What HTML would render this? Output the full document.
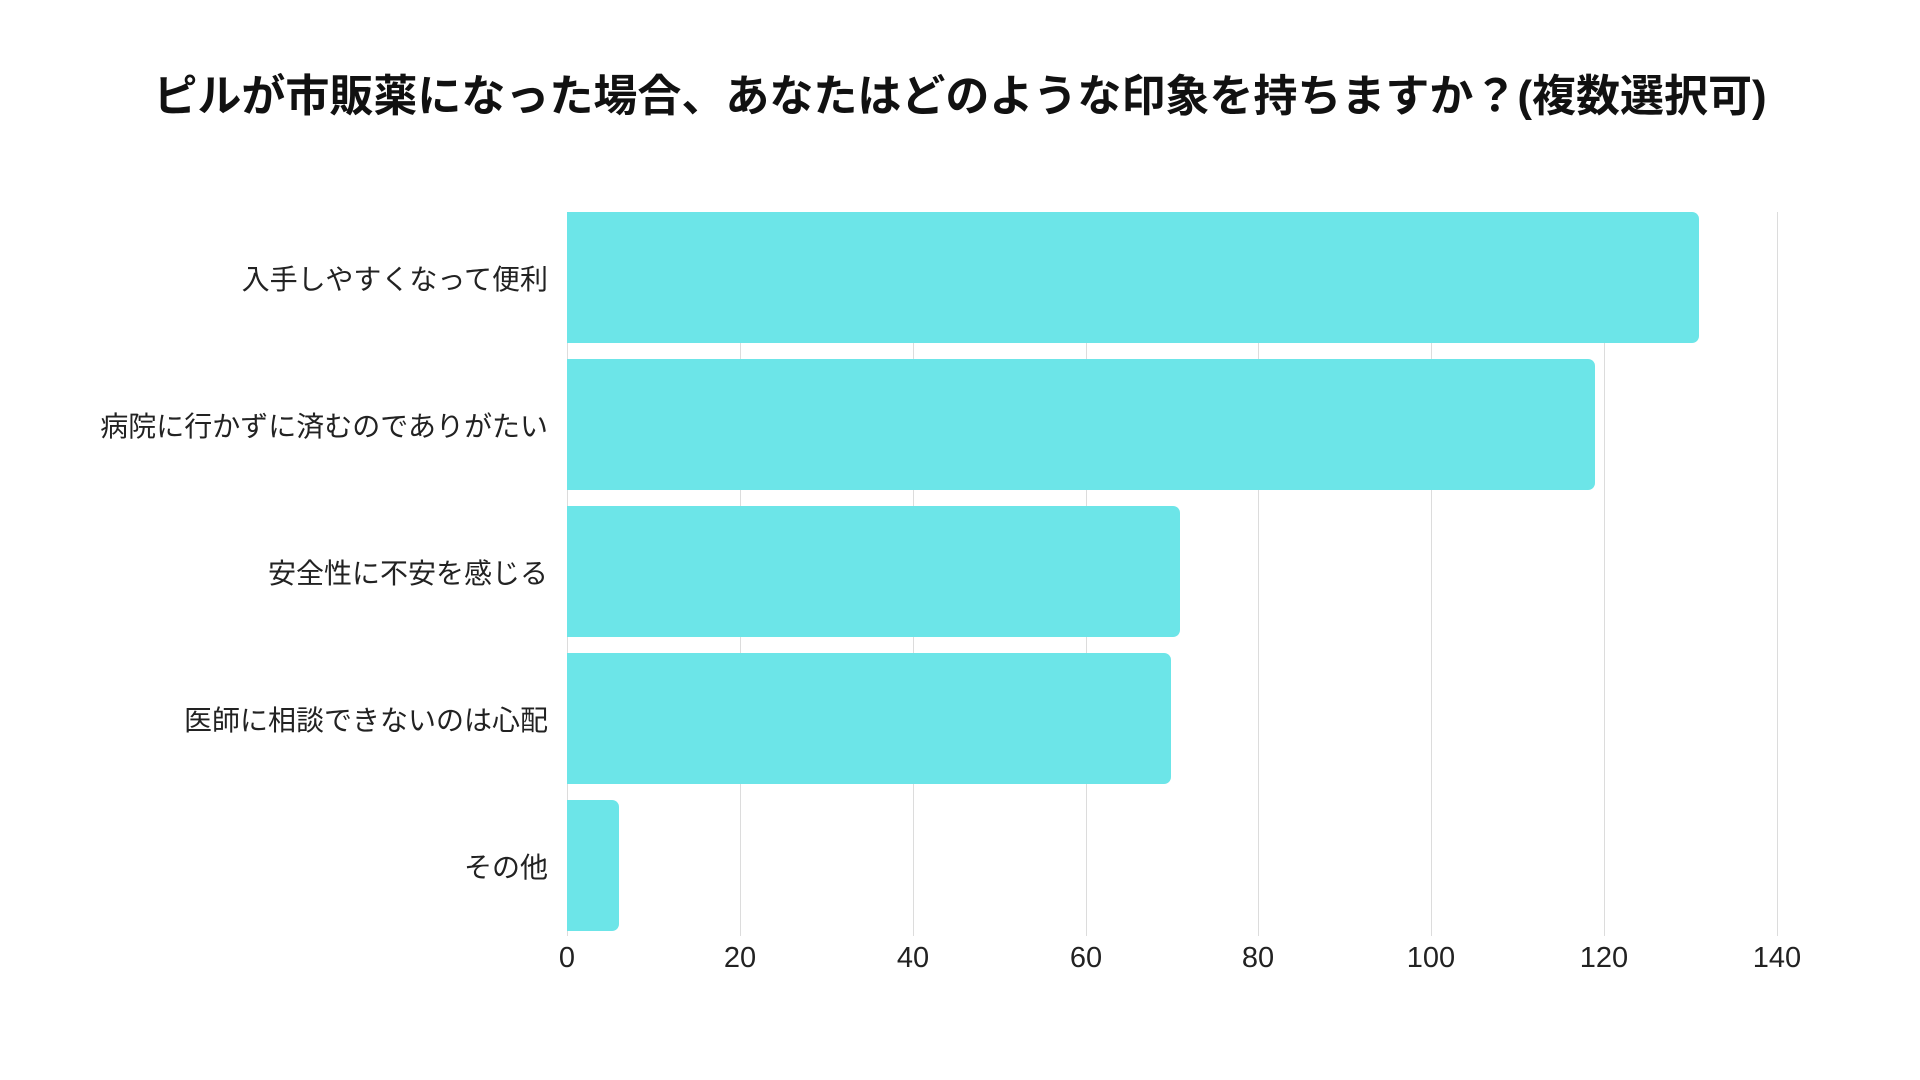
<!DOCTYPE html>
<html><head><meta charset="utf-8"><style>
body{margin:0;width:1920px;height:1080px;background:#fff;position:relative;overflow:hidden;font-family:"Liberation Sans","Noto Sans CJK JP",sans-serif;}
.t{position:absolute;left:0;width:1920px;top:60px;text-align:center;font-size:44px;font-weight:bold;color:#111;}
.g{position:absolute;top:212px;height:724px;width:1px;background:#dcdcdc;}
.b{position:absolute;left:567px;height:131px;background:#6ce5e8;border-radius:0 7px 7px 0;}
.l{position:absolute;right:1372px;font-size:28px;color:#222;white-space:nowrap;transform:translateY(-50%);}
.x{position:absolute;top:942px;font-size:29px;color:#222;transform:translateX(-50%);}
</style></head><body>
<div class="t">ピルが市販薬になった場合、あなたはどのような印象を持ちますか？(複数選択可)</div>
<div class="g" style="left:567px"></div><div class="g" style="left:740px"></div><div class="g" style="left:913px"></div><div class="g" style="left:1086px"></div><div class="g" style="left:1258px"></div><div class="g" style="left:1431px"></div><div class="g" style="left:1604px"></div><div class="g" style="left:1777px"></div>
<div class="b" style="top:212px;width:1132px"></div>
<div class="b" style="top:359px;width:1028px"></div>
<div class="b" style="top:506px;width:613px"></div>
<div class="b" style="top:653px;width:604px"></div>
<div class="b" style="top:800px;width:52px"></div>
<div class="l" style="top:278px">入手しやすくなって便利</div>
<div class="l" style="top:425px">病院に行かずに済むのでありがたい</div>
<div class="l" style="top:572px">安全性に不安を感じる</div>
<div class="l" style="top:719px">医師に相談できないのは心配</div>
<div class="l" style="top:866px">その他</div>
<div class="x" style="left:567px">0</div><div class="x" style="left:740px">20</div><div class="x" style="left:913px">40</div><div class="x" style="left:1086px">60</div><div class="x" style="left:1258px">80</div><div class="x" style="left:1431px">100</div><div class="x" style="left:1604px">120</div><div class="x" style="left:1777px">140</div>
</body></html>
